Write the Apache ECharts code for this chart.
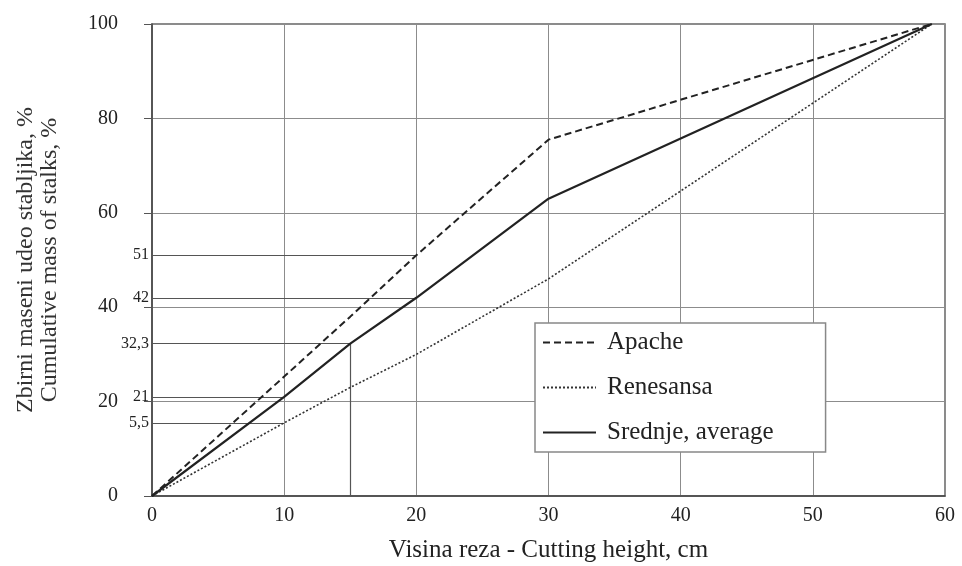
<!DOCTYPE html>
<html>
<head>
<meta charset="utf-8">
<script src="https://cdn.jsdelivr.net/npm/echarts@6/dist/echarts.min.js"></script>
<style>
html,body{margin:0;padding:0;background:#fff;}
#chart{width:962px;height:566px;}
</style>
</head>
<body>
<div id="chart"></div>
<script>
// Data
const heights   = [0, 10, 15, 20, 30, 59];
const apache    = [0, 25.3, 38, 51, 75.5, 100];
const renesansa = [0, 15.5, 23, 30, 46, 100];
const average   = [0, 21, 32.3, 42, 63, 100];
const seriesNames = ['Apache', 'Renesansa', 'Srednje, average'];

// Reference marks: value on y axis, x where it meets a curve, label text
const refY      = [51, 42, 32.3, 21, 15.5];
const refX      = [20, 20, 15, 10, 10];
const refLabels = ['51', '42', '32,3', '21', '5,5'];
const refVertX  = [15];
const refVertY  = [32.3];

const xTitle = 'Visina reza - Cutting height, cm';
const yTitle = 'Zbirni maseni udeo stabljika, %\nCumulative mass of stalks, %';

const FONT = '"Liberation Serif", "Times New Roman", serif';
const TXT = '#222';

function pairs(ys) { return heights.map((h, i) => [h, ys[i]]); }

const markData = refY.map((y, i) => [
  { coord: [0, y], label: { formatter: refLabels[i] } },
  { coord: [refX[i], y] }
]).concat(refVertX.map((x, i) => [
  { coord: [x, 0], label: { show: false } },
  { coord: [x, refVertY[i]] }
]));

const chart = echarts.init(document.getElementById('chart'), null, { renderer: 'canvas' });
chart.setOption({
  animation: false,
  backgroundColor: '#fff',
  grid: {
    left: 152, top: 24, right: 17, bottom: 70,
    containLabel: false, outerBoundsMode: 'none',
    show: true, borderColor: '#666', borderWidth: 1.5, backgroundColor: 'transparent'
  },
  xAxis: {
    type: 'value', min: 0, max: 60, interval: 10,
    name: xTitle, nameLocation: 'middle', nameGap: 42,
    nameTextStyle: { fontFamily: FONT, fontSize: 25, color: TXT },
    axisLine: { show: true, onZero: false, lineStyle: { color: '#444', width: 1.5 } },
    axisTick: { show: false },
    axisLabel: { fontFamily: FONT, fontSize: 20, color: TXT, margin: 10 },
    splitLine: { show: true, lineStyle: { color: '#8c8c8c', width: 1 } }
  },
  yAxis: {
    type: 'value', min: 0, max: 100, interval: 20,
    name: yTitle, nameLocation: 'middle', nameGap: 90, nameRotate: 90,
    nameTextStyle: { fontFamily: FONT, fontSize: 24, lineHeight: 24, color: '#333' },
    axisLine: { show: true, onZero: false, lineStyle: { color: '#444', width: 1.5 } },
    axisTick: { show: true, inside: false, length: 8, lineStyle: { color: '#555', width: 1 } },
    axisLabel: { fontFamily: FONT, fontSize: 20, color: TXT, margin: 34 },
    splitLine: { show: true, lineStyle: { color: '#8c8c8c', width: 1 } }
  },
  legend: {
    orient: 'vertical', left: 535, top: 323,
    padding: [7, 52, 7, 7],
    itemWidth: 53, itemHeight: 25, itemGap: 20,
    borderColor: '#888', borderWidth: 1.5, backgroundColor: '#fff',
    itemStyle: { opacity: 0, borderWidth: 0 },
    textStyle: { fontFamily: FONT, fontSize: 25, color: TXT, padding: [0, 0, 0, 6] },
    data: seriesNames
  },
  series: [
    {
      name: seriesNames[0], type: 'line', data: pairs(apache),
      symbol: 'none', z: 3,
      lineStyle: { color: '#222', width: 2, type: [7, 4] },
      itemStyle: { color: '#222' }
    },
    {
      name: seriesNames[1], type: 'line', data: pairs(renesansa),
      symbol: 'none', z: 3,
      lineStyle: { color: '#333', width: 1.6, type: [2, 2] },
      itemStyle: { color: '#333' }
    },
    {
      name: seriesNames[2], type: 'line', data: pairs(average),
      symbol: 'none', z: 3,
      lineStyle: { color: '#222', width: 2.2, type: 'solid' },
      itemStyle: { color: '#222' },
      markLine: {
        silent: true, symbol: ['none', 'none'], z: 2,
        lineStyle: { color: '#555', width: 1.2, type: 'solid' },
        label: { show: true, position: 'start', distance: 3, fontFamily: FONT, fontSize: 16, color: TXT },
        data: markData
      }
    }
  ]
});
</script>
</body>
</html>
